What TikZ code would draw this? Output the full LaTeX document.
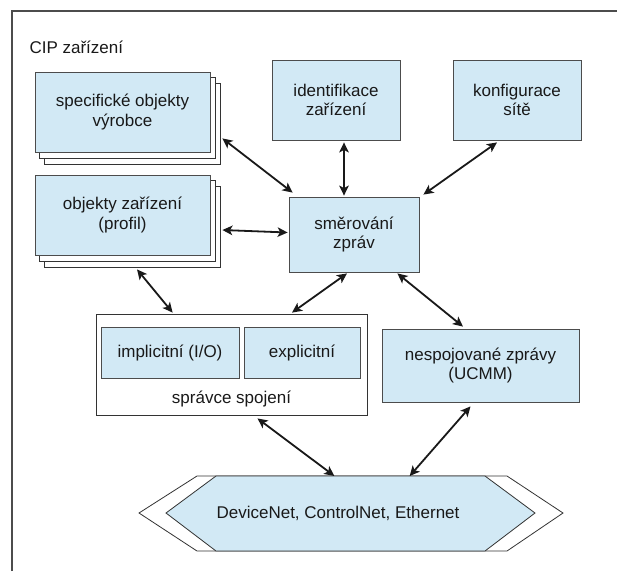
\documentclass[tikz,border=0pt]{standalone}
\usepackage{fontspec}
\setmainfont{Liberation Sans}
\usetikzlibrary{arrows.meta,positioning,calc,backgrounds}
\definecolor{boxblue}{RGB}{210,233,245}

\begin{document}
\begin{tikzpicture}[
    x=1pt, y=-1pt,
    >={Stealth[length=10pt,width=9.5pt,inset=2.5pt]},
    every node/.style={font=\fontsize{17}{19.5}\selectfont, text=black!90},
    box/.style={draw=black!70, line width=0.8pt, fill=boxblue, align=center, inner sep=0pt},
    plain/.style={draw=black!80, line width=0.8pt, fill=white},
    link/.style={<->, line width=1.8pt, black!90}
  ]
  \useasboundingbox (0,0) rectangle (617,571);
  % frame
  \draw[black!70, line width=1.2pt] (12,571) -- (12,11) -- (617,11);
  \node[anchor=west] (title) at (26,47) {CIP zařízení};

  % objects
  \node[box, minimum width=175pt, minimum height=80pt] (spec) at (122.5,112) {specifické objekty\\výrobce};
  \node[box, minimum width=175pt, minimum height=80pt] (dev) at (122.5,215) {objekty zařízení\\(profil)};
  \node[box, minimum width=128pt, minimum height=80pt] (ident) at (336,100) {identifikace\\zařízení};
  \node[box, minimum width=128pt, minimum height=80pt] (conf) at (517,100) {konfigurace\\sítě};
  \node[box, minimum width=130pt, minimum height=75pt] (route) at (354,234.5) {směrování\\zpráv};

  % connection manager
  \node[plain, minimum width=271pt, minimum height=101pt, inner sep=0pt] (mgr) at (231.5,364.5) {};
  \node[box, minimum width=138pt, minimum height=51pt] (impl) at (170,352.5) {implicitní (I/O)};
  \node[box, minimum width=116pt, minimum height=51pt] (expl) at (302,352.5) {explicitní};
  \node[above=5pt of mgr.south] (mgrlabel) {správce spojení};
  \node[box, minimum width=197pt, minimum height=73pt] (ucmm) at (480.5,365.5) {nespojované zprávy\\(UCMM)};

  % stacked copies
  \begin{scope}[on background layer]
    \foreach \n in {spec,dev}
      \foreach \d/\e in {10/12,5/6}
        \draw[plain] ($(\n.north west)+(\d,\e)$) rectangle ($(\n.south east)+(\d,\e)$);
  \end{scope}

  % network
  \draw[plain] (197,476) -- (507,476) -- (563,513) -- (507,551) -- (197,551) -- (139,513) -- cycle;
  \coordinate (tl) at (216,476);
  \coordinate (tr) at (485,476);
  \draw[draw=black!80, line width=0.8pt, fill=boxblue] (tl) -- (tr) -- (535,513) -- (485,551) -- (216,551) -- (166,513) -- cycle;
  \node (bus) at (338,513) {DeviceNet, ControlNet, Ethernet};

  % links
  \draw[link] ($(spec.south east)+(12,-14)$) -- ($(route.north west)+(4,-4)$);
  \draw[link] ($(ident.south)+(8,2)$) coordinate (i1) -- ($(i1 |- route.north)+(0,-1)$);
  \draw[link] ($(conf.south)+(-20,2)$) -- ($(route.north east)+(4,-2)$);
  \draw[link] ($(dev.east)+(12,15)$) -- ($(route.west)+(-1,-2)$);
  \draw[link] ($(dev.south)+(14.5,14)$) -- ($(mgr.north west)+(77,-1)$);
  \draw[link] ($(route.south)+(-7,1)$) -- ($(mgr.north)+(60.5,-1)$);
  \draw[link] ($(route.south east)+(-22,1)$) -- ($(ucmm.north)+(-17.5,-2)$);
  \draw[link] ($(mgr.south)+(26,3)$) -- ($(tl)!0.44!(tr)$);
  \draw[link] ($(ucmm.south)+(-10,4)$) -- ($(tl)!0.72!(tr)$);
\end{tikzpicture}
\end{document}
